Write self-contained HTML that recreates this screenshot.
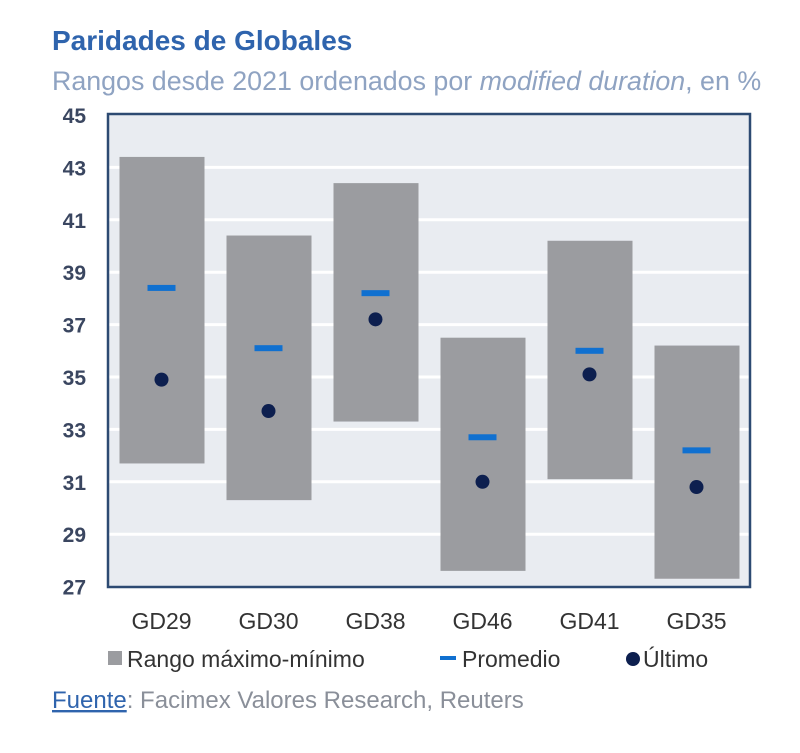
<!DOCTYPE html>
<html><head><meta charset="utf-8"><style>
body{margin:0;background:#fff;width:800px;height:748px;overflow:hidden;font-family:"Liberation Sans",sans-serif}
</style></head><body>
<svg width="800" height="748" xmlns="http://www.w3.org/2000/svg">
<text x="52" y="50" font-size="28" font-weight="bold" fill="#2f64ad">Paridades de Globales</text>
<text x="52" y="90" font-size="26.8" fill="#8fa3c2">Rangos desde 2021 ordenados por <tspan font-style="italic">modified duration</tspan>, en %</text>
<rect x="108" y="114" width="642" height="473" fill="#e9ecf1"/>
<g id="grid"></g><g id="marks"></g>
<rect x="108" y="114" width="642" height="473" fill="none" stroke="#2d4a72" stroke-width="2.5"/>
<g id="axes"></g>
<g>
<rect x="108" y="651" width="14" height="14" fill="#9b9ca0"/>
<text x="127" y="667" font-size="23" fill="#333">Rango máximo-mínimo</text>
<rect x="440" y="656" width="16" height="4" fill="#1070d0"/>
<text x="462" y="667" font-size="23" fill="#333">Promedio</text>
<circle cx="633" cy="659" r="7" fill="#0d1f4f"/>
<text x="643" y="667" font-size="23" fill="#333">Último</text>
</g>
<text x="52" y="708" font-size="24" fill="#8a8f99"><tspan fill="#2f64ad" text-decoration="underline">Fuente</tspan>: Facimex Valores Research, Reuters</text>
</svg>
<script>
const categories=["GD29","GD30","GD38","GD46","GD41","GD35"];
const maxVals=[43.4,40.4,42.4,36.5,40.2,36.2];
const minVals=[31.7,30.3,33.3,27.6,31.1,27.3];
const avgVals=[38.4,36.1,38.2,32.7,36.0,32.2];
const lastVals=[34.9,33.7,37.2,31.0,35.1,30.8];
const yTicks=[27,29,31,33,35,37,39,41,43,45];
const NS="http://www.w3.org/2000/svg";
const y=v=>115+(45-v)*26.2;
const bw=107;
const x=i=>108+bw*i+bw/2;
function mk(t,a,p){const e=document.createElementNS(NS,t);for(const k in a)e.setAttribute(k,a[k]);p.appendChild(e);return e;}
const grid=document.getElementById('grid'),marks=document.getElementById('marks'),axes=document.getElementById('axes');
yTicks.forEach(v=>{
 if(v>27&&v<45){const l=mk('line',{x1:108,x2:750,y1:y(v),y2:y(v),stroke:'#fff','stroke-width':3},grid);
 
 }
 const t=mk('text',{x:86,y:y(v)+8,'font-size':21,'font-weight':'bold','text-anchor':'end',fill:'#3a4660'},axes);
 t.textContent=v;
 
 
});
categories.forEach((c,i)=>{
 const r=mk('rect',{x:x(i)-42,y:y(maxVals[i]),width:85,height:y(minVals[i])-y(maxVals[i]),fill:'#9b9ca0'},marks);
 
 
 const a=mk('rect',{x:x(i)-14,y:y(avgVals[i])-3,width:28,height:6,fill:'#1070d0'},marks);
 
 
 const d=mk('circle',{cx:x(i),cy:y(lastVals[i]),r:7,fill:'#0d1f4f'},marks);
 
 
 const t=mk('text',{x:x(i),y:629,'font-size':23,'text-anchor':'middle',fill:'#333'},axes);
 t.textContent=c;
 
 
});
</script>
</body></html>
